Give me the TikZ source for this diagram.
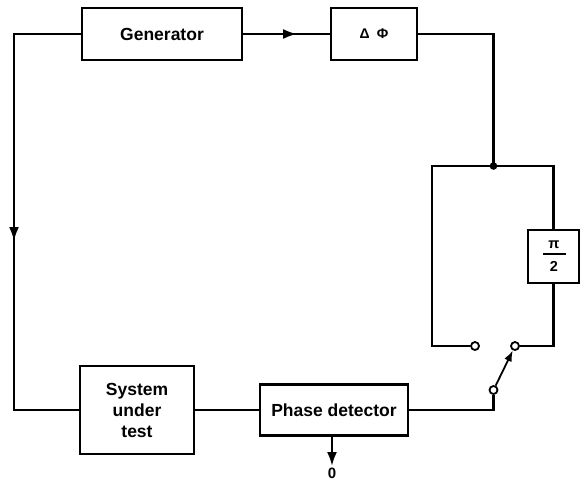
\documentclass[tikz,border=0pt]{standalone}
\usepackage{fontspec}
\setmainfont{Liberation Sans}
\usetikzlibrary{arrows.meta}
\begin{document}
\begin{tikzpicture}[x=1pt,y=-1pt,
  box/.style={draw,line width=2.8pt,inner sep=0pt,font=\fontsize{17.5}{21}\selectfont\bfseries,align=center},
  wire/.style={line width=2.3pt},
  tip/.style={-{Latex[length=14pt,width=10pt]}},
  contact/.style={circle,draw,line width=1.8pt,fill=white,inner sep=0pt,minimum size=8pt},
  lbl/.style={inner sep=0pt,font=\fontsize{14.5}{16}\selectfont\bfseries},
]
\useasboundingbox (0,0) rectangle (580,483);
% boxes
\node[box,minimum width=160pt,minimum height=52pt] (gen) at (162,34) {Generator};
\node[box,minimum width=86pt,minimum height=52pt,font=\fontsize{14}{16}\selectfont\bfseries] (dphi) at (374,34) {Δ\hspace{7pt}Φ};
\node[box,minimum width=51pt,minimum height=53pt] (half) at (553.5,256.5) {};
\node[lbl] (pisym) at (554,245) {π};
\node[lbl] (two) at (554,266.5) {2};
\draw[line width=1.8pt] (543,254) -- (566,254);
\node[box,minimum width=114pt,minimum height=88pt] (sut) at (137,410) {System\\under\\test};
\node[box,minimum width=148pt,minimum height=51pt] (pd) at (334,410) {Phase detector};
% coordinates and contacts
\coordinate (la) at (14,241);
\coordinate (ta) at (297,34);
\coordinate (j) at (493.5,166);
\coordinate (lc) at (432,166);
\node[contact] (cl) at (475,346) {};
\node[contact] (cr) at (515,346) {};
\node[contact] (pv) at (493.5,390) {};
\node[inner sep=1.5pt,font=\fontsize{15}{18}\selectfont\bfseries] (zero) at (332,473) {0};
% wires
\draw[wire] (gen.west) -| (la |- sut.west) -- (sut.west);
\draw[wire,tip] (gen.west) -| (la);
\draw[wire] (gen.east) -- (dphi.west);
\draw[wire,tip] (gen.east) -- (ta);
\draw[wire] (dphi.east) -| (j);
\draw[wire] (j) -| (half.north);
\draw[wire] (j) -- (lc) |- (cl);
\draw[wire] (half.south) |- (cr);
\draw[wire] (sut.east) -- (pd.west);
\draw[wire] (pd.east) -| (pv);
\draw[line width=1.8pt,-{Latex[length=11pt,width=8pt]}] (pv) -- (cr);
\draw[wire,tip] (pd.south -| zero) -- (zero);
\fill (j) circle[radius=3.8pt];
\end{tikzpicture}
\end{document}
